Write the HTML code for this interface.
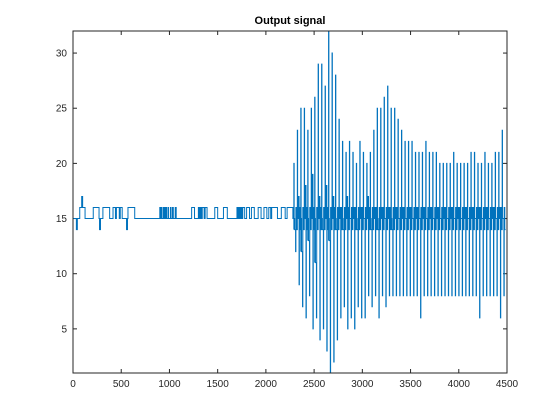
<!DOCTYPE html>
<html><head><meta charset="utf-8"><style>
body{margin:0;background:#fff}
svg{display:block;font-family:"Liberation Sans",sans-serif}
</style></head><body>
<svg id="chart" width="560" height="420" viewBox="0 0 560 420">
<rect x="0" y="0" width="560" height="420" fill="#fff"/>
<text x="290" y="24" text-anchor="middle" font-size="11" font-weight="bold" fill="#000">Output signal</text>
<g id="axes"></g>
<path id="line" fill="none" stroke="#0072BD" stroke-width="1"/>
<rect x="73" y="31" width="434" height="342" fill="none" stroke="#262626" stroke-width="1"/>
</svg>
<script>
const xTicks=[0,500,1000,1500,2000,2500,3000,3500,4000,4500];
const yTicks=[5,10,15,20,25,30];
const stepX=[0,35,45,70,90,100,125,210,270,275,285,310,380,415,440,450,480,490,510,555,565,570,640,900,905,915,920,935,940,950,955,965,970,985,990,1010,1015,1030,1040,1060,1070,1080,1230,1260,1300,1310,1320,1330,1340,1360,1370,1390,1470,1500,1560,1600,1700,1710,1720,1730,1740,1750,1760,1780,1800,1830,1850,1880,1920,1950,1980,2010,2030,2050,2060,2120,2160,2200,2220,2280];
const stepY=[15,14,15,16,17,16,15,16,15,14,15,16,15,16,15,16,15,16,15,14,15,16,15,16,15,16,15,16,15,16,15,16,15,16,15,16,15,16,15,16,15,15,16,15,16,15,16,15,16,15,16,15,16,15,16,15,16,15,16,15,16,15,16,15,16,15,16,15,16,15,16,15,16,15,16,15,16,15,16,15];
const peaks=[20,23,25,25,23,25,26,29,29,27,32,30,28,24,22,21,22,21,20,22,21,20,21,23,25,25,26,27,25,25,24,23,22,22,22,21,21,21,22,21,21,21,20,20,20,20,21,20,20,20,20,21,21,20,20,21,20,20,21,21,23];
const troughs=[12,9,7,6,8,5,6,4,5,3,1,2,4,6,7,5,6,5,7,6,6,8,7,8,6,8,7,8,8,8,8,8,8,8,8,8,6,8,8,8,8,8,8,8,8,8,8,8,8,8,8,8,8,6,8,8,8,8,8,6,8];
const mids=[14,17,12,18,13,19,11,17,14,18,13,17,14,16,14,17,15,16,14,16,15,17,14,16,14,16,15,16,14,16,15,16,15,16,15,16,15,16,15,16,15,16,15,16,15,16,15,16,15,16,15,16,15,16,15,16,15,16,15,16,15];
const oscStart=2290, period=36;
const X0=73,X1=507,Y0=373,Y1=31,xmin=0,xmax=4500,ymin=1,ymax=32;
function sx(v){return X0+(v-xmin)/(xmax-xmin)*(X1-X0);}
function sy(v){return Y0-(v-ymin)/(ymax-ymin)*(Y0-Y1);}
const ns="http://www.w3.org/2000/svg";
const axes=document.getElementById('axes');
function mk(t,a){const e=document.createElementNS(ns,t);for(const k in a)e.setAttribute(k,a[k]);axes.appendChild(e);return e;}
xTicks.forEach(t=>{
  const x=sx(t);
  const a=mk('line',{x1:x,x2:x,y1:Y0,y2:Y0-4,stroke:'#262626'});
  
  
  const b=mk('line',{x1:x,x2:x,y1:Y1,y2:Y1+4,stroke:'#262626'});
  
  
  const l=mk('text',{x:x,y:Y0+14,'text-anchor':'middle','font-size':'10',fill:'#262626'});
  l.textContent=t;
  
  
});
yTicks.forEach(t=>{
  const y=sy(t);
  const a=mk('line',{x1:X0,x2:X0+4,y1:y,y2:y,stroke:'#262626'});
  
  
  const b=mk('line',{x1:X1,x2:X1-4,y1:y,y2:y,stroke:'#262626'});
  
  
  const l=mk('text',{x:X0-6,y:y+3.5,'text-anchor':'end','font-size':'10',fill:'#262626'});
  l.textContent=t;
  
  
});
let pts=[];
for(let i=0;i<stepX.length;i++){
  const xa=stepX[i], xb=(i+1<stepX.length)?stepX[i+1]:oscStart;
  pts.push([xa,stepY[i]],[xb,stepY[i]]);
}
for(let k=0;k<peaks.length;k++){
  const x0=oscStart+k*period;
  const h=period/2;
  pts.push([x0,mids[k]],[x0,peaks[k]],[x0+3,peaks[k]],[x0+3,15],[x0+8,15],[x0+8,mids[k]],[x0+h,mids[k]],[x0+h,troughs[k]],[x0+h+3,troughs[k]],[x0+h+3,16],[x0+h+9,16],[x0+h+9,14],[x0+period,14]);
}
let d=pts.map((p,i)=>(i?'L':'M')+sx(p[0]).toFixed(2)+' '+sy(Math.max(ymin-1,Math.min(ymax+1,p[1]))).toFixed(2)).join('');
document.getElementById('line').setAttribute('d',d);
const cp=document.createElementNS(ns,'clipPath');cp.setAttribute('id','clip');
const cr=document.createElementNS(ns,'rect');cr.setAttribute('x',X0);cr.setAttribute('y',Y1);cr.setAttribute('width',X1-X0);cr.setAttribute('height',Y0-Y1);
cp.appendChild(cr);document.getElementById('chart').appendChild(cp);
document.getElementById('line').setAttribute('clip-path','url(#clip)');
</script>
</body></html>
